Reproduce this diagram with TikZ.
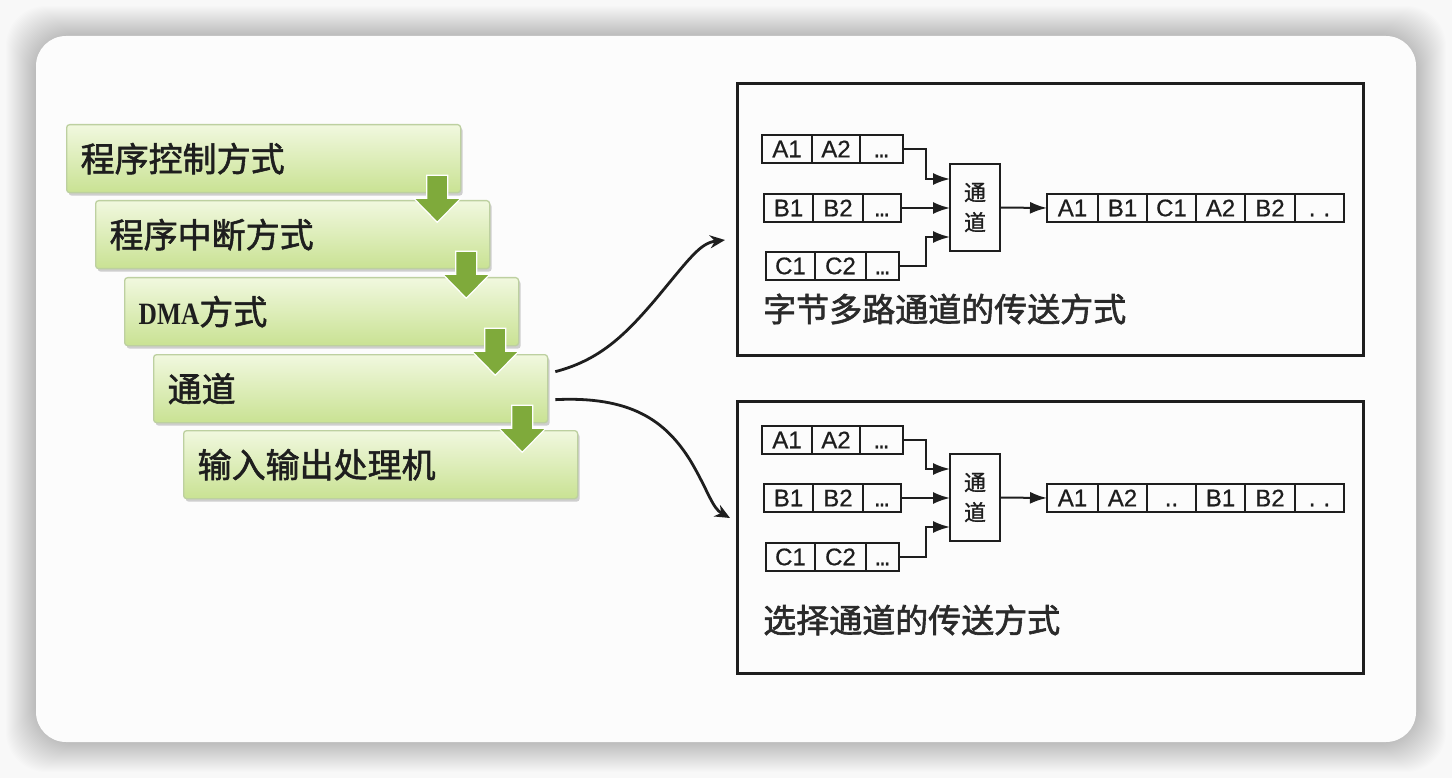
\documentclass[tikz,border=0pt]{standalone}
\usepackage{fontspec}
\setmainfont{Liberation Sans}
\newfontfamily\cjk{Noto Sans CJK SC}
\newfontfamily\cjkg[FakeBold=1.6]{Noto Sans CJK SC}
\newfontfamily\cjkl[FakeBold=1.8]{Noto Sans CJK SC}
\newfontfamily\cjkc[FakeBold=1.1]{Noto Sans CJK SC}
\newfontfamily\arialf[FakeBold=0.6]{Liberation Sans}
\newfontfamily\timesf[FakeStretch=0.82]{Liberation Serif}
\usetikzlibrary{arrows.meta,calc,shadows}
\definecolor{bgc}{HTML}{F8F8F8}
\definecolor{gtop}{HTML}{F1F8DF}
\definecolor{gbot}{HTML}{C9E293}
\definecolor{gborder}{HTML}{BDD0A0}
\definecolor{garrow}{HTML}{7FAA3B}
\definecolor{ink}{HTML}{1E1E1E}
\definecolor{lblc}{HTML}{2A2A2A}
\newcommand{\tdots}{\vphantom{A}{\fontsize{17}{17}\selectfont\bfseries ...}}
\newcommand{\garr}[1]{%
  \begin{scope}[shift={(#1)}]
    \filldraw[fill=garrow, draw=white, line width=1.2]
      (-10.5,0) -- (10.5,0) -- (10.5,23) -- (23.5,23) -- (0,47) -- (-23.5,23) -- (-10.5,23) -- cycle;
  \end{scope}}
\tikzset{
  gbox/.style={anchor=north west, rounded corners=3, draw=gborder, line width=1.3,
    top color=gtop, bottom color=gbot, minimum width=394, minimum height=68,
    text width=366, align=left, inner xsep=14, inner ysep=0, text=ink,
    font=\cjkg\fontsize{34}{38}\selectfont,
    drop shadow={shadow xshift=2pt, shadow yshift=-3pt, fill=black, opacity=0.18}},
  panel/.style={anchor=north west, draw=ink, line width=3, minimum width=626, minimum height=272, inner sep=0},
  cell/.style={draw=ink, line width=2.1, minimum height=28, inner sep=0, outer sep=0, anchor=west,
    font=\arialf\fontsize{24}{24}\selectfont, text=ink},
  chan/.style={draw=ink, line width=2.1, minimum width=50, minimum height=87, align=center,
    inner sep=0, outer sep=0, font=\cjkc\fontsize{22}{30}\selectfont, text=ink},
  conn/.style={draw=ink, line width=2, -{Latex[length=17pt,width=12pt]}},
  curve/.style={draw=ink, line width=2.8, -{Stealth[length=15pt,width=13pt]}},
  lbl/.style={anchor=west, inner sep=0, text=lblc, font=\cjkl\fontsize{33}{33}\selectfont}
}
\begin{document}
\begin{tikzpicture}[x=1pt,y=-1pt]
\useasboundingbox (0,0) rectangle (1452,778);
% background and card
\fill[bgc] (0,0) rectangle (1452,778);
\foreach \i in {1,...,30}{
  \fill[black,opacity=0.006,rounded corners=40] (36-\i,36-\i) rectangle (1416+\i,742+\i);
}
\fill[white!99!black, rounded corners=30] (36,36) rectangle (1416,742);

% green steps
\node[gbox] (g1) at (66,124) {程序控制方式};
\node[gbox] (g2) at (95,200) {程序中断方式};
\node[gbox] (g3) at (124,277) {{\timesf\bfseries\fontsize{31}{34}\selectfont DMA}方式};
\node[gbox] (g4) at (153,354) {通道};
\node[gbox] (g5) at (183,430) {输入输出处理机};
\garr{$(g1.south east)+(-24,-18)$}
\garr{$(g2.south east)+(-24,-18)$}
\garr{$(g3.south east)+(-24,-18)$}
\garr{$(g4.south east)+(-26,-18)$}

% panels
\node[panel] (p1) at (736,82) {};
\node[panel] (p2) at (736,400) {};

% ---- top panel ----
\node[cell,minimum width=50] (ta1) at (762,149) {A1};
\node[cell,minimum width=48] (ta2) at (ta1.east) {A2};
\node[cell,minimum width=43] (ta3) at (ta2.east) {\tdots};
\node[cell,minimum width=49] (tb1) at (764,208) {B1};
\node[cell,minimum width=50] (tb2) at (tb1.east) {B2};
\node[cell,minimum width=38] (tb3) at (tb2.east) {\tdots};
\node[cell,minimum width=49] (tc1) at (766,266) {C1};
\node[cell,minimum width=51] (tc2) at (tc1.east) {C2};
\node[cell,minimum width=33] (tc3) at (tc2.east) {\tdots};
\node[chan] (ch1) at (975,207.5) {通\\道};
\node[cell,minimum width=51] (to1) at (1047,208) {A1};
\node[cell,minimum width=49] (to2) at (to1.east) {B1};
\node[cell,minimum width=49] (to3) at (to2.east) {C1};
\node[cell,minimum width=49] (to4) at (to3.east) {A2};
\node[cell,minimum width=50] (to5) at (to4.east) {B2};
\node[cell,minimum width=49] (to6) at (to5.east) {\vphantom{A}.\,\,.};
\draw[conn] (ta3.east) -- ++(23,0) |- ($(ch1.west)+(0,-28.5)$);
\draw[conn] (tb3.east) -- (tb3.east -| ch1.west);
\draw[conn] (tc3.east) -- ++(27,0) |- ($(ch1.west)+(0,29.5)$);
\draw[conn] (ch1.east) -- (to1.west);
\node[lbl] (l1) at (763,309) {字节多路通道的传送方式};

% ---- bottom panel ----
\node[cell,minimum width=50] (ba1) at (762,440) {A1};
\node[cell,minimum width=48] (ba2) at (ba1.east) {A2};
\node[cell,minimum width=43] (ba3) at (ba2.east) {\tdots};
\node[cell,minimum width=49] (bb1) at (764,498) {B1};
\node[cell,minimum width=50] (bb2) at (bb1.east) {B2};
\node[cell,minimum width=38] (bb3) at (bb2.east) {\tdots};
\node[cell,minimum width=49] (bc1) at (766,557) {C1};
\node[cell,minimum width=51] (bc2) at (bc1.east) {C2};
\node[cell,minimum width=33] (bc3) at (bc2.east) {\tdots};
\node[chan] (ch2) at (975,497.5) {通\\道};
\node[cell,minimum width=51] (bo1) at (1047,498) {A1};
\node[cell,minimum width=49] (bo2) at (bo1.east) {A2};
\node[cell,minimum width=49] (bo3) at (bo2.east) {\vphantom{A}..};
\node[cell,minimum width=49] (bo4) at (bo3.east) {B1};
\node[cell,minimum width=50] (bo5) at (bo4.east) {B2};
\node[cell,minimum width=49] (bo6) at (bo5.east) {\vphantom{A}.\,\,.};
\draw[conn] (ba3.east) -- ++(23,0) |- ($(ch2.west)+(0,-28.5)$);
\draw[conn] (bb3.east) -- (bb3.east -| ch2.west);
\draw[conn] (bc3.east) -- ++(27,0) |- ($(ch2.west)+(0,29.5)$);
\draw[conn] (ch2.east) -- (bo1.west);
\node[lbl] (l2) at (763,620) {选择通道的传送方式};

% ---- curved connectors ----
\coordinate (s1) at ($(g4.east)+(7,-17)$);
\coordinate (s2) at ($(g4.east)+(7,11)$);
\coordinate (e1) at (725,240);
\coordinate (e2) at (730,518);
\draw[curve] (s1) .. controls (600,360) and (625,335) .. (655,300) .. controls (690,258) and (700,243) .. (e1);
\draw[curve] (s2) .. controls (630,396) and (665,420) .. (690,460) .. controls (708,490) and (712,508) .. (e2);
\end{tikzpicture}
\end{document}
